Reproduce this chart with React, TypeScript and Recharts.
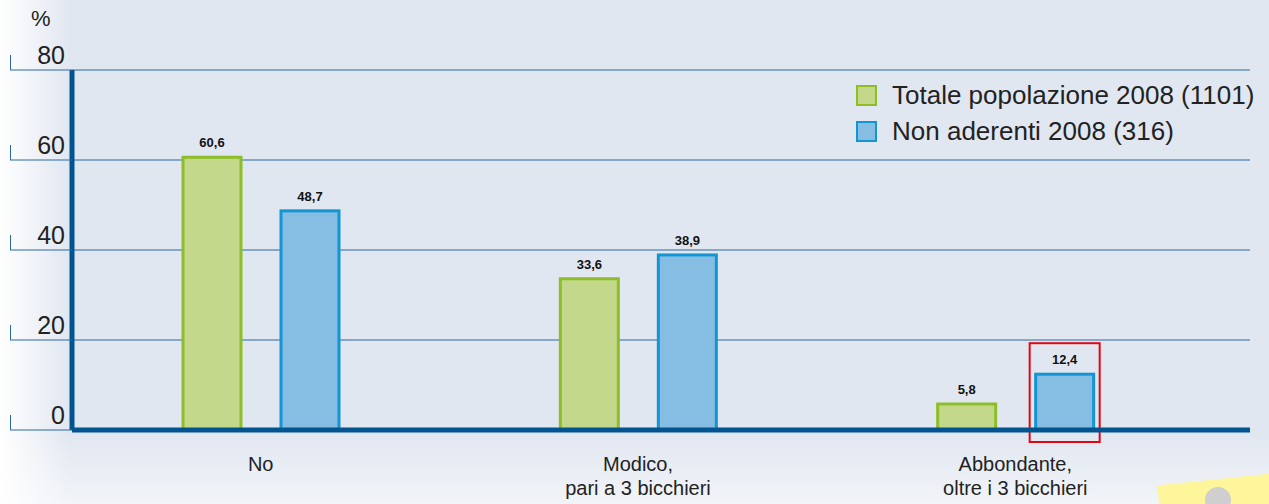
import React from 'react';
import { BarChart, Bar, XAxis, YAxis, CartesianGrid, LabelList } from 'recharts';

const categories = ['No', 'Modico,\npari a 3 bicchieri', 'Abbondante,\noltre i 3 bicchieri'];
const totale2008 = [60.6, 33.6, 5.8];
const nonAderenti2008 = [48.7, 38.9, 12.4];
const yTicks = [0, 20, 40, 60, 80];
const seriesNames = ['Totale popolazione 2008 (1101)', 'Non aderenti 2008 (316)'];
const highlightedNonAderenti = ['Abbondante,\noltre i 3 bicchieri'];

const data = categories.map((c, i) => ({
  cat: c,
  totale: totale2008[i],
  nonAderenti: nonAderenti2008[i],
}));

const W = 1269;
const H = 504;
const PLOT_LEFT = 72;
const GRID = '#2B69A0';
const AXIS = '#00548F';
const FONT = '"Liberation Sans", Arial, Helvetica, sans-serif';
const GREEN_FILL = '#C3D88A';
const GREEN_STROKE = '#8DBE2A';
const BLUE_FILL = '#86BDE2';
const BLUE_STROKE = '#1495D3';

const fmt = (v: number) => v.toFixed(1).replace('.', ',');

const YTick = (props: any) => {
  const { y, payload } = props;
  return (
    <g>
      <line x1={10} x2={PLOT_LEFT} y1={y} y2={y} stroke={GRID} strokeWidth={1} />
      <line x1={10.5} x2={10.5} y1={y - 15} y2={y} stroke={GRID} strokeWidth={1} />
      <text x={65} y={y - 6} textAnchor="end" fontSize={25} fill="#222" fontFamily={FONT}>
        {payload.value}
      </text>
    </g>
  );
};

const XTick = (props: any) => {
  const { x, y, payload } = props;
  const lines = String(payload.value).split('\n');
  return (
    <g>
      {lines.map((l, i) => (
        <text key={i} x={x} y={y + 33 + i * 24} textAnchor="middle" fontSize={20} fill="#222" fontFamily={FONT}>
          {l}
        </text>
      ))}
    </g>
  );
};

const BlueShape = (props: any) => {
  const { x, y, width, height, payload } = props;
  const hl = highlightedNonAderenti.includes(payload.cat);
  const base = y + height;
  return (
    <g>
      <rect x={x} y={y} width={width} height={height} fill={BLUE_FILL} stroke={BLUE_STROKE} strokeWidth={3} />
      {hl && (
        <rect x={x - 6} y={y - 31} width={width + 12} height={base + 12 - (y - 31)} fill="none" stroke="#E30613" strokeWidth={2} />
      )}
    </g>
  );
};

const LegendBox = () => (
  <div style={{ position: 'absolute', left: 856, top: 77, fontFamily: FONT, fontSize: 26, color: '#222' }}>
    {seriesNames.map((n, i) => (
      <div key={n} style={{ display: 'flex', alignItems: 'center', height: 36 }}>
        <div
          style={{
            width: 17,
            height: 17,
            background: i === 0 ? GREEN_FILL : BLUE_FILL,
            border: `2px solid ${i === 0 ? GREEN_STROKE : BLUE_STROKE}`,
            marginRight: 15,
            flexShrink: 0,
          }}
        />
        <span style={{ whiteSpace: 'nowrap' }}>{n}</span>
      </div>
    ))}
  </div>
);

export default function App() {
  return (
    <div
      style={{
        position: 'absolute',
        left: 0,
        top: 0,
        width: W,
        height: H,
        overflow: 'hidden',
        background:
          'linear-gradient(to right, #ffffff 0px, rgba(225,231,241,0) 70px), linear-gradient(to bottom, #E1E7F1 0%, #E1E7F1 86%, #F2F4F8 100%)',
      }}
    >
      <div
        style={{
          position: 'absolute',
          left: 1160,
          top: 478,
          width: 140,
          height: 60,
          background: '#FFF59B',
          transform: 'rotate(-6deg)',
        }}
      />
      <div
        style={{
          position: 'absolute',
          left: 1205,
          top: 487,
          width: 26,
          height: 26,
          borderRadius: 13,
          background: '#CFCFCF',
        }}
      />
      <div style={{ position: 'absolute', left: 31, top: 6, fontFamily: FONT, fontSize: 22, color: '#222' }}>%</div>
      <div style={{ position: 'absolute', left: 0, top: 0 }}>
        <BarChart
          width={W}
          height={H}
          data={data}
          margin={{ top: 70, right: 19, bottom: 0, left: 10 }}
          barGap={40}
          barSize={58}
        >
          <CartesianGrid vertical={false} stroke={GRID} strokeWidth={1} strokeDasharray="" />
          <XAxis
            dataKey="cat"
            tick={<XTick />}
            tickLine={false}
            axisLine={{ stroke: AXIS, strokeWidth: 5 }}
            padding={{ left: 0, right: 46 }}
            interval={0}
            height={74}
          />
          <YAxis
            domain={[0, 80]}
            ticks={yTicks}
            width={62}
            tick={<YTick />}
            tickLine={false}
            axisLine={{ stroke: AXIS, strokeWidth: 5 }}
          />
          <Bar dataKey="totale" fill={GREEN_FILL} stroke={GREEN_STROKE} strokeWidth={3} isAnimationActive={false}>
            <LabelList
              dataKey="totale"
              position="top"
              offset={10}
              formatter={(v: any) => fmt(Number(v))}
              style={{ fontFamily: FONT, fontSize: 13, fontWeight: 'bold', fill: '#111' }}
            />
          </Bar>
          <Bar dataKey="nonAderenti" fill={BLUE_FILL} stroke={BLUE_STROKE} strokeWidth={3} shape={<BlueShape />} isAnimationActive={false}>
            <LabelList
              dataKey="nonAderenti"
              position="top"
              offset={10}
              formatter={(v: any) => fmt(Number(v))}
              style={{ fontFamily: FONT, fontSize: 13, fontWeight: 'bold', fill: '#111' }}
            />
          </Bar>
        </BarChart>
      </div>
      <LegendBox />
    </div>
  );
}
